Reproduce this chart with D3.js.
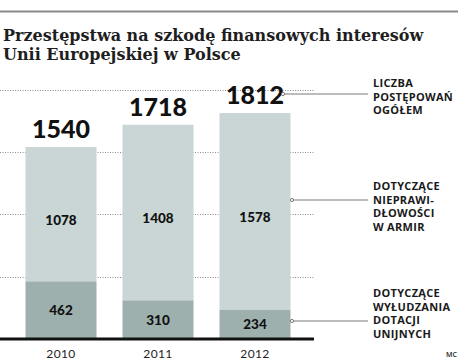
<!DOCTYPE html>
<html>
<head>
<meta charset="utf-8">
<script src="https://cdn.jsdelivr.net/npm/d3@7"></script>
<style>
  body { margin: 0; background: #fff; }
  svg { display: block; }
</style>
</head>
<body>
<svg width="458" height="362"></svg>
<script>
// dane
const years = ["2010", "2011", "2012"];
const irregular = [1078, 1408, 1578];   // nieprawidłowości w ARMiR
const fraud = [462, 310, 234];          // wyłudzenia dotacji unijnych
const totals = [1540, 1718, 1812];
const gridTicks = [500, 1000, 1500, 2000];
const titleLines = ["Przestępstwa na szkodę finansowych interesów", "Unii Europejskiej w Polsce"];
const legendLabels = [
  ["LICZBA", "POSTĘPOWAŃ", "OGÓŁEM"],
  ["DOTYCZĄCE", "NIEPRAWI-", "DŁOWOŚCI", "W ARMIR"],
  ["DOTYCZĄCE", "WYŁUDZANIA", "DOTACJI", "UNIJNYCH"]
];

function main() {
  let svg = d3.select("svg"),
    baseY = 339,
    plotRight = 316;

  let xScale = d3.scaleBand().domain(years).range([0, plotRight])
      .paddingInner(0.268).paddingOuter(0.263),
    yScale = d3.scaleLinear().domain([0, 2000]).range([baseY, baseY - 249.4]);

  // górna linia
  svg.append("rect").attr("x", 0).attr("y", 10.5).attr("width", 458).attr("height", 2)
    .attr("fill", "#8a8a8a");

  // tytuł
  svg.append("g").selectAll("text").data(titleLines).enter().append("text")
    .attr("x", 3)
    .attr("y", (d, i) => 40.5 + i * 19)
    .attr("font-family", "DejaVu Serif")
    .attr("font-weight", "bold")
    .attr("font-size", "16px")
    .attr("fill", "#1e1e1e")
    .text(d => d);

  // linie siatki
  svg.append("g").selectAll("line").data(gridTicks).enter().append("line")
    .attr("x1", 0).attr("x2", plotRight - 2)
    .attr("y1", d => Math.round(yScale(d)) + 0.5)
    .attr("y2", d => Math.round(yScale(d)) + 0.5)
    .attr("stroke", "#8c8c8c")
    .attr("stroke-width", 1)
    .attr("stroke-dasharray", "1,1.5");

  let stack = years.map((y, i) => ({ year: y, fraud: fraud[i], irregular: irregular[i], total: totals[i] }));

  let bars = svg.append("g").selectAll("g").data(stack).enter().append("g");

  bars.append("rect")
    .attr("x", d => xScale(d.year))
    .attr("width", xScale.bandwidth())
    .attr("y", d => yScale(d.fraud + d.irregular))
    .attr("height", d => yScale(d.fraud) - yScale(d.fraud + d.irregular))
    .attr("fill", "#c9d6d5");

  bars.append("rect")
    .attr("x", d => xScale(d.year))
    .attr("width", xScale.bandwidth())
    .attr("y", d => yScale(d.fraud))
    .attr("height", d => baseY - yScale(d.fraud))
    .attr("fill", "#9db0ae");

  const numFont = "Lato, 'DejaVu Sans', sans-serif";

  bars.append("text")
    .attr("x", d => xScale(d.year) + xScale.bandwidth() / 2)
    .attr("y", d => yScale(d.total) - 9)
    .attr("text-anchor", "middle")
    .attr("font-family", numFont)
    .attr("font-weight", 900)
    .attr("font-size", "25px")
    .attr("fill", "#111")
    .text(d => d.total);

  bars.append("text")
    .attr("x", d => xScale(d.year) + xScale.bandwidth() / 2)
    .attr("y", d => (yScale(d.fraud) + yScale(d.fraud + d.irregular)) / 2 + 6)
    .attr("dy", "0.36em")
    .attr("text-anchor", "middle")
    .attr("font-family", numFont)
    .attr("font-weight", 900)
    .attr("font-size", "13.5px")
    .attr("fill", "#111")
    .text(d => d.irregular);

  bars.append("text")
    .attr("x", d => xScale(d.year) + xScale.bandwidth() / 2)
    .attr("y", d => (yScale(d.fraud) + baseY) / 2)
    .attr("dy", "0.36em")
    .attr("text-anchor", "middle")
    .attr("font-family", numFont)
    .attr("font-weight", 900)
    .attr("font-size", "13.5px")
    .attr("fill", "#111")
    .text(d => d.fraud);

  // oś
  svg.append("line")
    .attr("x1", 0).attr("x2", plotRight - 2)
    .attr("y1", baseY).attr("y2", baseY)
    .attr("stroke", "#111").attr("stroke-width", 3);

  let xAxis = svg.append("g")
    .attr("transform", "translate(0," + (baseY + 2) + ")")
    .call(d3.axisBottom(xScale).tickSize(0).tickPadding(8));
  xAxis.select(".domain").remove();
  xAxis.selectAll("text")
    .attr("font-family", "Lato, sans-serif")
    .attr("font-size", "12px")
    .attr("letter-spacing", "0.4px")
    .attr("fill", "#222");

  // opisy z odnośnikami
  const labelX = 373;
  const leaderY = [94, 200, 321];
  const leaderX0 = [283, 292, 292];
  const labelTop = [87, 190, 297];

  legendLabels.forEach((lines, k) => {
    svg.append("line")
      .attr("x1", leaderX0[k]).attr("x2", 368)
      .attr("y1", leaderY[k]).attr("y2", leaderY[k])
      .attr("stroke", "#7a7a7a").attr("stroke-width", 1.2);
    svg.append("circle")
      .attr("cx", leaderX0[k]).attr("cy", leaderY[k]).attr("r", 1.6)
      .attr("fill", "#fff").attr("stroke", "#7a7a7a").attr("stroke-width", 1);
    svg.append("g").selectAll("text").data(lines).enter().append("text")
      .attr("x", labelX)
      .attr("y", (d, i) => labelTop[k] + i * 13.5)
      .attr("font-family", "'Open Sans', sans-serif")
      .attr("font-weight", 700)
      .attr("font-size", "11px")
      .attr("letter-spacing", "0.3px")
      .attr("fill", "#1a1a1a")
      .text(d => d);
  });

  svg.append("text")
    .attr("x", 446).attr("y", 357)
    .attr("font-family", "'Open Sans', sans-serif")
    .attr("font-weight", 600)
    .attr("font-size", "7px")
    .attr("fill", "#222")
    .text("MC");
}
main();
</script>
</body>
</html>
